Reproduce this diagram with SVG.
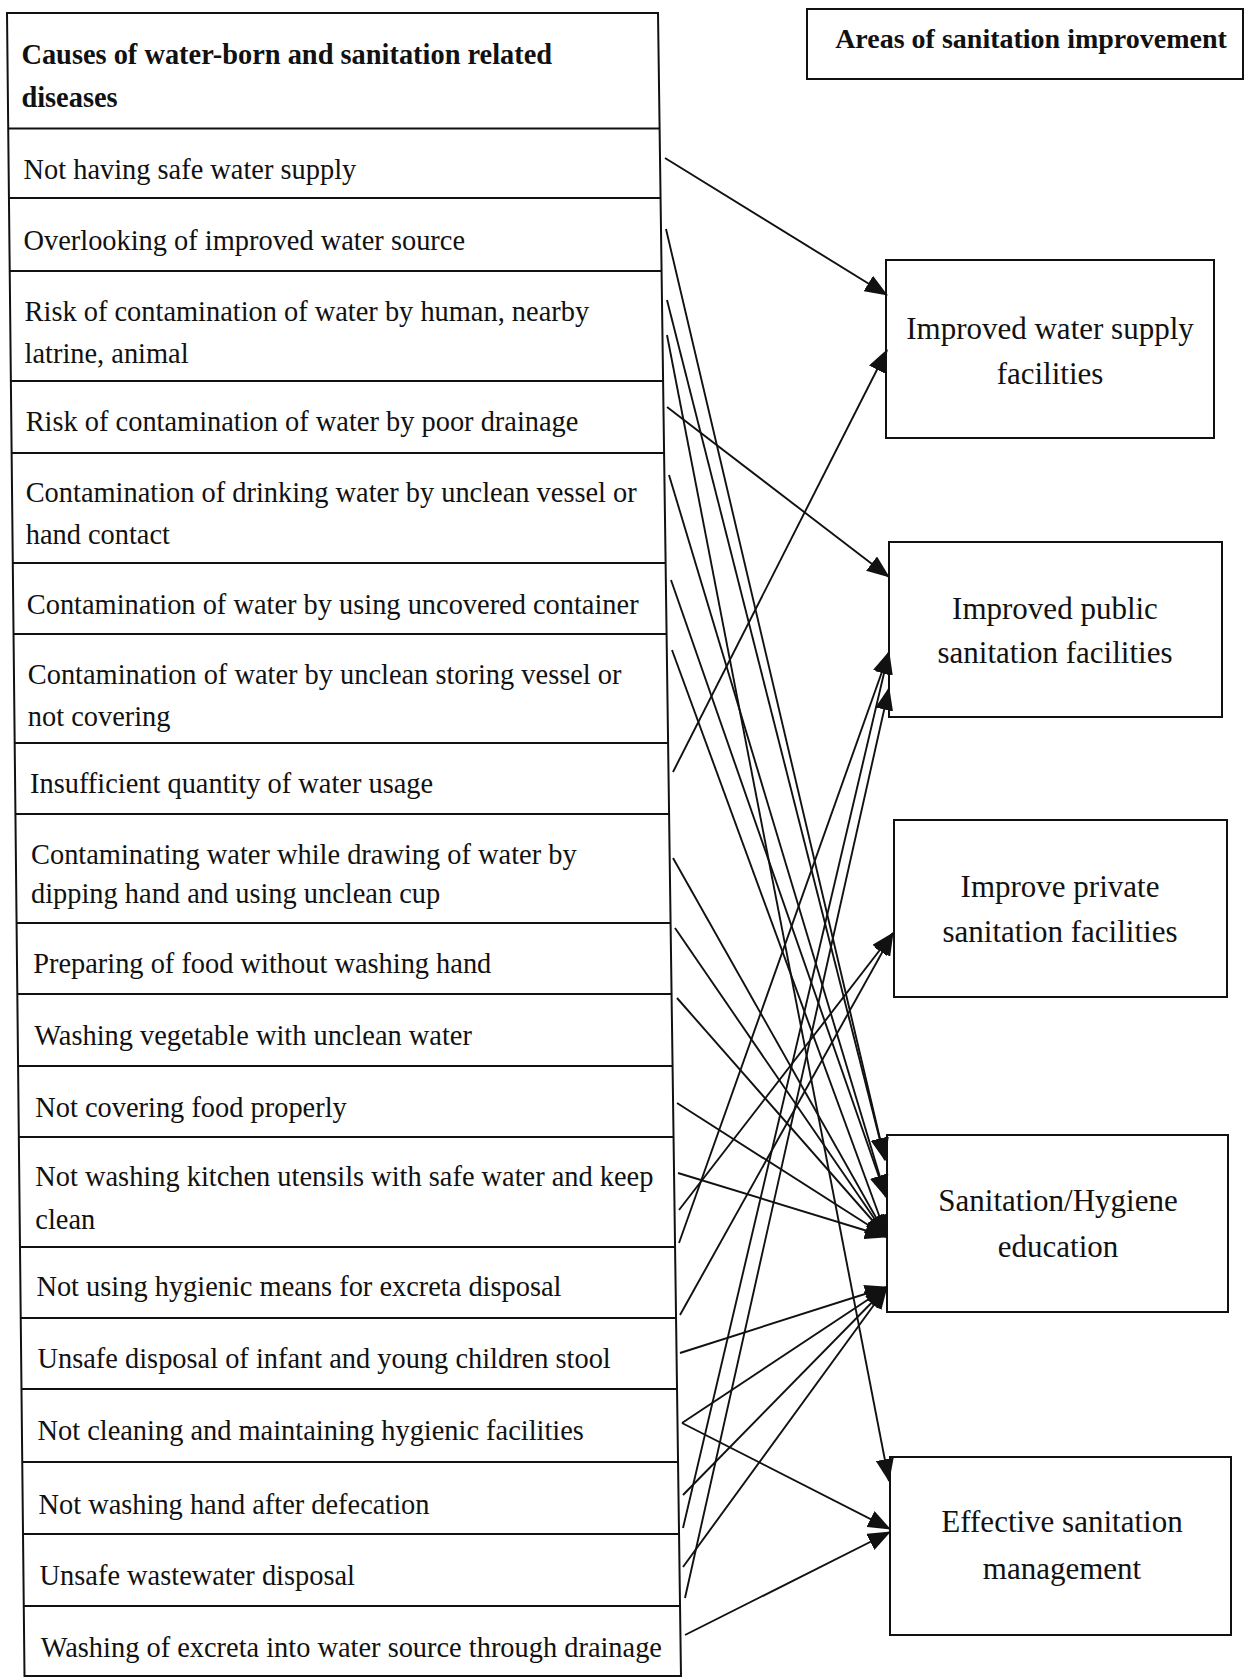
<svg xmlns="http://www.w3.org/2000/svg" width="1245" height="1679" viewBox="0 0 1245 1679">
  <defs>
    <style>
      .frame { fill: none; stroke: #111; stroke-width: 2; }
      .sep { stroke: #111; stroke-width: 2; }
      .cell { font-family: "Liberation Serif", "Times New Roman", serif; font-size: 28.4px; fill: #111; }
      .head { font-weight: bold; }
      .area rect { fill: #fff; stroke: #111; stroke-width: 2; }
      .area text { font-family: "Liberation Serif", "Times New Roman", serif; font-size: 31px; fill: #111; text-anchor: middle; }
      .link { stroke: #111; stroke-width: 1.9; fill: none; marker-end: url(#head); }
    </style>
    <marker id="head" markerUnits="userSpaceOnUse" markerWidth="23" markerHeight="18" viewBox="0 0 23 18" refX="22" refY="9" orient="auto">
      <path d="M0,0 L23,9 L0,18 Z" fill="#111"/>
    </marker>
  </defs>
  <rect width="1245" height="1679" fill="#fff"/>

  <!-- left table: outer frame and row separators (slightly slanted scan) -->
  <g id="causes-table">
    <path class="frame" d="M7,13 L658,13 L681,1676 L24.5,1676 Z"/>
    <line class="sep" x1="8.2" y1="128.5" x2="659.6" y2="128.5"/>
    <line class="sep" x1="8.9" y1="198" x2="660.6" y2="198"/>
    <line class="sep" x1="9.7" y1="271" x2="661.6" y2="271"/>
    <line class="sep" x1="10.9" y1="381" x2="663.1" y2="381"/>
    <line class="sep" x1="11.6" y1="453" x2="664.1" y2="453"/>
    <line class="sep" x1="12.8" y1="563" x2="665.6" y2="563"/>
    <line class="sep" x1="13.5" y1="634" x2="666.6" y2="634"/>
    <line class="sep" x1="14.7" y1="743" x2="668.1" y2="743"/>
    <line class="sep" x1="15.4" y1="814" x2="669.1" y2="814"/>
    <line class="sep" x1="16.6" y1="923" x2="670.6" y2="923"/>
    <line class="sep" x1="17.3" y1="994" x2="671.5" y2="994"/>
    <line class="sep" x1="18.1" y1="1066" x2="672.5" y2="1066"/>
    <line class="sep" x1="18.8" y1="1137" x2="673.5" y2="1137"/>
    <line class="sep" x1="20.0" y1="1247" x2="675.0" y2="1247"/>
    <line class="sep" x1="20.7" y1="1318" x2="676.0" y2="1318"/>
    <line class="sep" x1="21.4" y1="1389" x2="677.0" y2="1389"/>
    <line class="sep" x1="22.2" y1="1462" x2="678.0" y2="1462"/>
    <line class="sep" x1="23.0" y1="1534" x2="679.0" y2="1534"/>
    <line class="sep" x1="23.7" y1="1606" x2="680.0" y2="1606"/>
  </g>

  <g id="causes-header">
    <text class="cell head" x="21.4" y="64">Causes of water-born and sanitation related</text>
    <text class="cell head" x="21.4" y="107">diseases</text>
  </g>

  <g id="cause-01"><text class="cell" x="23.5" y="179">Not having safe water supply</text></g>
  <g id="cause-02"><text class="cell" x="23.5" y="250">Overlooking of improved water source</text></g>
  <g id="cause-03">
    <text class="cell" x="24.6" y="321">Risk of contamination of water by human, nearby</text>
    <text class="cell" x="24.6" y="363">latrine, animal</text>
  </g>
  <g id="cause-04"><text class="cell" x="25.7" y="431">Risk of contamination of water by poor drainage</text></g>
  <g id="cause-05">
    <text class="cell" x="25.7" y="502">Contamination of drinking water by unclean vessel or</text>
    <text class="cell" x="25.7" y="544">hand contact</text>
  </g>
  <g id="cause-06"><text class="cell" x="26.8" y="614">Contamination of water by using uncovered container</text></g>
  <g id="cause-07">
    <text class="cell" x="27.8" y="684">Contamination of water by unclean storing vessel or</text>
    <text class="cell" x="27.8" y="726">not covering</text>
  </g>
  <g id="cause-08"><text class="cell" x="30" y="793">Insufficient quantity of water usage</text></g>
  <g id="cause-09">
    <text class="cell" x="31" y="864">Contaminating water while drawing of water by</text>
    <text class="cell" x="31" y="903">dipping hand and using unclean cup</text>
  </g>
  <g id="cause-10"><text class="cell" x="33.2" y="973">Preparing of food without washing hand</text></g>
  <g id="cause-11"><text class="cell" x="34.3" y="1045">Washing vegetable with unclean water</text></g>
  <g id="cause-12"><text class="cell" x="35.3" y="1117">Not covering food properly</text></g>
  <g id="cause-13">
    <text class="cell" x="35.3" y="1186">Not washing kitchen utensils with safe water and keep</text>
    <text class="cell" x="35.3" y="1229">clean</text>
  </g>
  <g id="cause-14"><text class="cell" x="36.4" y="1296">Not using hygienic means for excreta disposal</text></g>
  <g id="cause-15"><text class="cell" x="37.5" y="1368">Unsafe disposal of infant and young children stool</text></g>
  <g id="cause-16"><text class="cell" x="37.5" y="1440">Not cleaning and maintaining hygienic facilities</text></g>
  <g id="cause-17"><text class="cell" x="38.5" y="1514">Not washing hand after defecation</text></g>
  <g id="cause-18"><text class="cell" x="39.6" y="1585">Unsafe wastewater disposal</text></g>
  <g id="cause-19"><text class="cell" x="40.7" y="1657">Washing of excreta into water source through drainage</text></g>

  <!-- right column: areas of improvement -->
  <g id="areas-title" class="area">
    <rect x="807" y="9" width="436" height="70"/>
    <text x="1031" y="48" style="font-size:28px;font-weight:bold">Areas of sanitation improvement</text>
  </g>
  <g id="area-water-supply" class="area">
    <rect x="886" y="260" width="328" height="178"/>
    <text x="1050" y="339">Improved water supply</text>
    <text x="1050" y="384">facilities</text>
  </g>
  <g id="area-public-sanitation" class="area">
    <rect x="889" y="542" width="333" height="175"/>
    <text x="1055" y="619">Improved public</text>
    <text x="1055" y="663">sanitation facilities</text>
  </g>
  <g id="area-private-sanitation" class="area">
    <rect x="894" y="820" width="333" height="177"/>
    <text x="1060" y="897">Improve private</text>
    <text x="1060" y="942">sanitation facilities</text>
  </g>
  <g id="area-hygiene-education" class="area">
    <rect x="887" y="1135" width="341" height="177"/>
    <text x="1058" y="1211">Sanitation/Hygiene</text>
    <text x="1058" y="1257">education</text>
  </g>
  <g id="area-management" class="area">
    <rect x="890" y="1457" width="341" height="178"/>
    <text x="1062" y="1532">Effective sanitation</text>
    <text x="1062" y="1579">management</text>
  </g>

  <!-- connectors from causes to areas -->
  <g id="connectors">
    <line class="link" x1="665" y1="158" x2="887" y2="295"/>
    <line class="link" x1="666" y1="229" x2="885" y2="1160"/>
    <line class="link" x1="667" y1="300" x2="885" y2="1160"/>
    <line class="link" x1="667" y1="335" x2="889" y2="1481"/>
    <line class="link" x1="667" y1="407" x2="889" y2="577"/>
    <line class="link" x1="669" y1="475" x2="886" y2="1197"/>
    <line class="link" x1="671" y1="580" x2="886" y2="1197"/>
    <line class="link" x1="672" y1="650" x2="887" y2="1237"/>
    <line class="link" x1="673" y1="772" x2="887" y2="350"/>
    <line class="link" x1="673" y1="858" x2="887" y2="1237"/>
    <line class="link" x1="675" y1="928" x2="887" y2="1237"/>
    <line class="link" x1="677" y1="998" x2="887" y2="1237"/>
    <line class="link" x1="677" y1="1103" x2="887" y2="1237"/>
    <line class="link" x1="678" y1="1173" x2="887" y2="1237"/>
    <line class="link" x1="679" y1="1210" x2="893" y2="933"/>
    <line class="link" x1="679" y1="1243" x2="889" y2="652"/>
    <line class="link" x1="680" y1="1315" x2="893" y2="933"/>
    <line class="link" x1="680" y1="1353" x2="887" y2="1287"/>
    <line class="link" x1="682" y1="1423" x2="887" y2="1287"/>
    <line class="link" x1="682" y1="1423" x2="890" y2="1529"/>
    <line class="link" x1="683" y1="1495" x2="887" y2="1287"/>
    <line class="link" x1="683" y1="1528" x2="889" y2="652"/>
    <line class="link" x1="683" y1="1567" x2="887" y2="1287"/>
    <line class="link" x1="685" y1="1598" x2="889" y2="688"/>
    <line class="link" x1="685" y1="1635" x2="890" y2="1532"/>
  </g>
</svg>
